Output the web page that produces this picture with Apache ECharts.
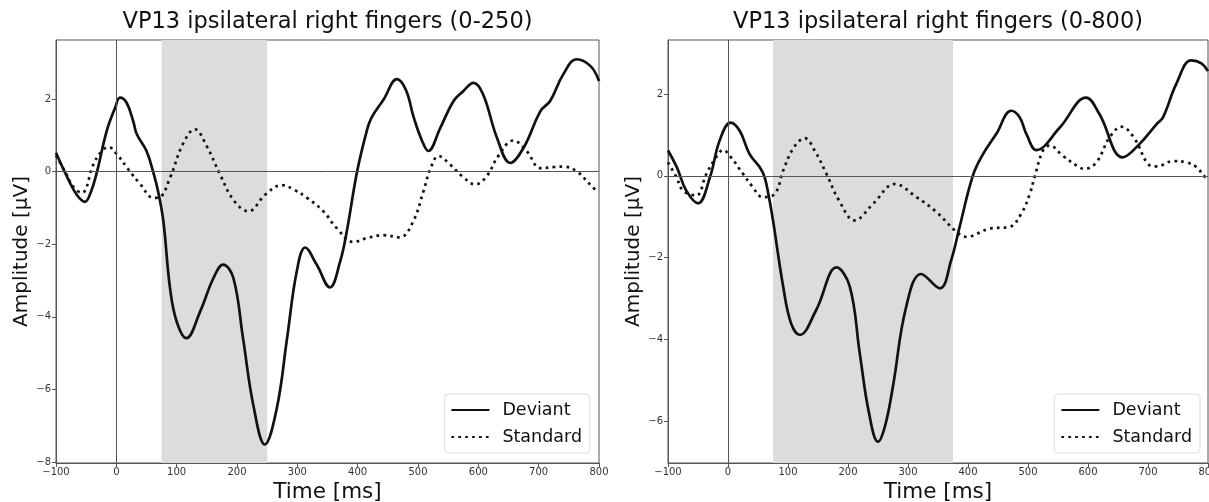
<!DOCTYPE html>
<html>
<head>
<meta charset="utf-8">
<script src="https://cdn.jsdelivr.net/npm/echarts@6/dist/echarts.min.js"></script>
<style>
  html, body { margin: 0; padding: 0; background: #fff; }
  #chart { width: 1209px; height: 502px; }
</style>
</head>
<body>
<div id="chart"></div>
<script>
// ERP traces for VP13, ipsilateral right fingers: [time ms, amplitude µV]
const leftDeviant = [
  [-100, 0.52], [-80, -0.2], [-65, -0.65], [-52, -0.83], [-42, -0.55], [-32, 0.0], [-16, 1.12],
  [-2, 1.76], [6, 2.04], [17, 1.9], [28, 1.39], [34, 1.03], [50, 0.57], [61, 0.0], [70, -0.6],
  [78, -1.37], [89, -3.21], [100, -4.13], [116, -4.59], [139, -3.85], [161, -2.93], [177, -2.56],
  [194, -2.93], [210, -4.59], [227, -6.43], [246, -7.52], [266, -6.52], [283, -4.59], [299, -2.75],
  [313, -2.09], [332, -2.56], [354, -3.19], [371, -2.47], [382, -1.64], [399, 0.0], [415, 1.12],
  [423, 1.49], [443, 1.99], [465, 2.55], [480, 2.25], [493, 1.49], [507, 0.84], [517, 0.57],
  [537, 1.21], [559, 1.95], [575, 2.22], [592, 2.45], [608, 2.13], [631, 0.93], [653, 0.24],
  [675, 0.66], [703, 1.67], [719, 1.95], [741, 2.69], [763, 3.1], [786, 2.91], [800, 2.5]
];
const leftStandard = [
  [-100, 0.45], [-85, 0.0], [-70, -0.45], [-57, -0.58], [-38, 0.2], [-25, 0.55], [-13, 0.68],
  [0, 0.5], [20, 0.06], [40, -0.35], [61, -0.72], [72, -0.7], [89, -0.17], [110, 0.75],
  [130, 1.17], [150, 0.7], [172, -0.08], [195, -0.8], [219, -1.09], [247, -0.63], [274, -0.37],
  [295, -0.5], [316, -0.72], [343, -1.09], [365, -1.55], [393, -1.94], [415, -1.83], [443, -1.75],
  [470, -1.81], [492, -1.37], [509, -0.54], [521, 0.1], [534, 0.43], [553, 0.2], [573, -0.12],
  [595, -0.35], [614, -0.12], [633, 0.43], [658, 0.86], [680, 0.57], [703, 0.1], [727, 0.13],
  [741, 0.14], [763, 0.01], [791, -0.45], [800, -0.55]
];
const rightDeviant = [
  [-100, 0.62], [-85, 0.2], [-70, -0.35], [-50, -0.67], [-30, -0.03], [-14, 0.86], [4.5, 1.3],
  [19.5, 1.1], [36, 0.53], [53, 0.21], [61, -0.03], [68, -0.5], [75, -1.09], [92, -2.71],
  [105, -3.6], [119.5, -3.89], [147, -3.28], [181, -2.24], [203, -2.71], [219.5, -4.33],
  [235, -5.8], [250, -6.5], [262, -6.1], [275, -5.14], [297, -3.2], [322, -2.4], [353, -2.75],
  [372, -2.06], [386, -1.25], [408, 0.0], [425, 0.53], [447, 1.02], [472, 1.59], [486, 1.43],
  [498, 1.0], [514, 0.63], [553, 1.18], [597, 1.91], [619, 1.51], [658, 0.45], [686, 0.78],
  [714, 1.26], [725, 1.43], [747, 2.24], [772, 2.82], [789, 2.75], [800, 2.56]
];
const rightStandard = [
  [-100, 0.33], [-86, -0.03], [-75, -0.36], [-53, -0.48], [-36, 0.05], [-20, 0.45], [-8, 0.63],
  [5, 0.45], [25, 0.05], [40, -0.25], [58, -0.52], [78, -0.44], [92, 0.13], [110, 0.7],
  [128, 0.92], [145, 0.6], [164, 0.05], [185, -0.6], [211, -1.09], [242, -0.68], [278, -0.2],
  [314, -0.52], [347, -0.88], [378, -1.33], [397, -1.49], [436, -1.29], [469, -1.25],
  [489, -0.92], [503, -0.44], [511, -0.03], [525, 0.62], [536, 0.74], [558, 0.49], [581, 0.25],
  [594, 0.17], [614, 0.33], [636, 0.94], [656, 1.2], [678, 0.9], [700, 0.29], [714, 0.23],
  [742, 0.36], [764, 0.33], [781, 0.21], [795, -0.03], [800, -0.05]
];

const panelTitles = ['VP13 ipsilateral right fingers (0-250)', 'VP13 ipsilateral right fingers (0-800)'];
const shadedWindows = [[75, 250], [75, 375]];
const yRanges = [[-8.03, 3.63], [-7.02, 3.32]];
const yTicks = [[-8, -6, -4, -2, 0, 2], [-6, -4, -2, 0, 2]];
const xRange = [-100, 800];
const seriesNames = ['Deviant', 'Standard'];

const FONT = 'DejaVu Sans';
const minus = v => (v < 0 ? '\u2212' + Math.abs(v) : String(v));

const grids = [
  { left: 56, top: 40, width: 543, height: 423 },
  { left: 668, top: 40, width: 540, height: 423 }
];

const option = {
  animation: false,
  backgroundColor: '#fff',
  title: panelTitles.map((t, i) => ({
    text: t,
    // title box carries 5px padding, so pull the anchor back to centre the text
    left: grids[i].left + grids[i].width / 2 - 5,
    textAlign: 'center',
    top: 6,
    textStyle: { fontFamily: FONT, fontSize: 22.5, fontWeight: 'normal', color: '#111' }
  })),
  legend: [0, 1].map(i => ({
    data: seriesNames,
    orient: 'vertical',
    right: i === 0 ? 619 : 9,
    bottom: 49,
    itemWidth: 38,
    itemHeight: 14,
    itemGap: 9,
    padding: [7, 8, 7, 6],
    backgroundColor: '#fff',
    borderColor: '#ddd',
    borderWidth: 1,
    borderRadius: 4,
    selectedMode: false,
    itemStyle: { opacity: 0 },
    textStyle: { fontFamily: FONT, fontSize: 17.5, color: '#111', padding: [0, 0, 0, 8] }
  })),
  grid: grids.map(g => ({
    ...g,
    outerBoundsMode: 'none',
    containLabel: false,
    show: true,
    borderColor: '#555',
    borderWidth: 1,
    backgroundColor: 'transparent'
  })),
  xAxis: [0, 1].map(i => ({
    type: 'value',
    gridIndex: i,
    min: xRange[0],
    max: xRange[1],
    interval: 100,
    name: 'Time [ms]',
    nameLocation: 'middle',
    nameGap: 18,
    nameTextStyle: { fontFamily: FONT, fontSize: 21.5, color: '#111' },
    axisLine: { show: true, onZero: false, lineStyle: { color: '#555', width: 1 } },
    axisTick: { show: true, length: 4, lineStyle: { color: '#555' } },
    axisLabel: { fontFamily: FONT, fontSize: 10, color: '#333', margin: 4, formatter: minus },
    splitLine: { show: false }
  })),
  yAxis: [0, 1].map(i => ({
    type: 'value',
    gridIndex: i,
    min: yRanges[i][0],
    max: yRanges[i][1],
    name: 'Amplitude [µV]',
    nameLocation: 'middle',
    nameGap: 24,
    nameRotate: 90,
    nameTextStyle: { fontFamily: FONT, fontSize: 20, color: '#111' },
    axisLine: { show: true, onZero: false, lineStyle: { color: '#555', width: 1 } },
    axisTick: { show: true, length: 4, lineStyle: { color: '#555' }, customValues: yTicks[i] },
    axisLabel: { fontFamily: FONT, fontSize: 10, color: '#333', margin: 5, formatter: minus, customValues: yTicks[i] },
    splitLine: { show: false }
  })),
  series: []
};

const panels = [
  [leftDeviant, leftStandard],
  [rightDeviant, rightStandard]
];

panels.forEach(([dev, std], i) => {
  option.series.push({
    name: seriesNames[0],
    type: 'line',
    xAxisIndex: i,
    yAxisIndex: i,
    data: dev,
    smooth: 0.4,
    symbol: 'none',
    lineStyle: { color: '#111', width: 2.7 },
    itemStyle: { color: '#111' },
    z: 4,
    // response window and the zero reference lines
    markArea: {
      silent: true,
      itemStyle: { color: '#dcdcdc' },
      data: [[{ xAxis: shadedWindows[i][0] }, { xAxis: shadedWindows[i][1] }]],
      z: 1
    },
    markLine: {
      silent: true,
      symbol: 'none',
      label: { show: false },
      lineStyle: { color: '#555', width: 1, type: 'solid' },
      data: [{ xAxis: 0 }, { yAxis: 0 }]
    }
  });
  option.series.push({
    name: seriesNames[1],
    type: 'line',
    xAxisIndex: i,
    yAxisIndex: i,
    data: std,
    smooth: 0.4,
    symbol: 'none',
    lineStyle: { color: '#111', width: 2.7, type: [2.7, 4.2] },
    itemStyle: { color: '#111' },
    z: 4
  });
});

const chart = echarts.init(document.getElementById('chart'), null, { renderer: 'canvas' });
chart.setOption(option);
</script>
</body>
</html>
